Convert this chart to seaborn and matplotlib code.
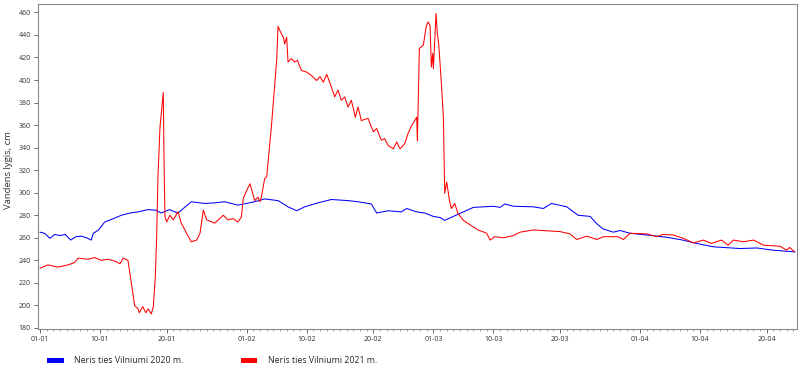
import matplotlib
matplotlib.use("Agg")
import matplotlib.pyplot as plt
import matplotlib.dates as mdates
from matplotlib.patches import Patch
import pandas as pd
import seaborn as sns

# days since 1 January, water level (cm)
blue_days = [0, 0.7, 1.5, 2.2, 3.0, 3.8, 4.6, 5.4, 6.2, 7.0,
             7.7, 8.0, 8.8, 9.7, 11.0, 12.2, 13.5, 14.7, 16.2, 17.4,
             18.2, 19.4, 20.7, 21.7, 22.7, 24.7, 26.2, 27.7, 29.7, 32.2,
             33.7, 35.7, 37.2, 38.5, 39.7, 41.7, 43.7, 46.2, 47.7, 49.7,
             50.5, 52.2, 54.2, 55.0, 56.5, 57.7, 59.0, 60.0, 60.7, 62.0,
             63.5, 65.0, 68.0, 69.0, 69.7, 71.0, 74.0, 75.5, 76.7, 79.0,
             80.7, 82.5, 83.5, 84.4, 86.0, 87.0, 88.5, 91.0, 94.0, 96.4,
             98.5, 101.0, 105.0, 107.5, 110.0, 113.2]
blue_vals = [265, 264, 259.5, 263, 262, 263, 258, 261, 261.5, 260,
             258, 264, 267, 274, 277, 280, 282, 283, 285, 284.5,
             282, 285, 282, 287, 292, 290.5, 291, 292, 289, 292,
             294.5, 293, 287.5, 284, 287.5, 291, 294, 293, 292, 290,
             282, 284, 283, 286, 283, 282, 279, 278, 275.5, 279,
             283, 287, 288, 287, 290, 288, 287.5, 286, 290.5, 287.5,
             280, 279, 272.5, 268, 265, 266.5, 264, 262.5, 260.5, 258,
             255, 252, 250.5, 251, 249, 247.5]

red_days = [0, 1.2, 2.7, 4.2, 5.2, 5.7, 7.2, 8.2, 9.2, 10.2,
            11.4, 12.0, 12.5, 13.2, 13.7, 14.2, 14.7, 14.9, 15.4, 15.9,
            16.2, 16.7, 17.0, 17.3, 17.5, 17.7, 18.0, 18.5, 18.6, 18.75,
            19.0, 19.5, 20.0, 20.7, 21.2, 22.0, 22.7, 23.5, 24.0, 24.5,
            25.0, 26.2, 27.5, 28.2, 29.0, 29.7, 30.2, 30.5, 31.0, 31.5,
            32.2, 32.7, 33.0, 33.2, 33.7, 34.0, 34.7, 35.5, 35.7, 36.2,
            36.5, 36.7, 37.0, 37.2, 37.7, 38.2, 38.6, 39.2, 40.0, 40.7,
            41.5, 42.0, 42.5, 43.0, 43.7, 44.2, 44.7, 45.2, 45.7, 46.2,
            46.7, 47.3, 47.7, 48.2, 49.2, 50.0, 50.5, 51.2, 51.7, 52.2,
            53.0, 53.5, 54.0, 54.7, 55.2, 55.6, 56.5, 56.6, 56.9, 57.5,
            57.9, 58.2, 58.5, 58.7, 58.9, 59.0, 59.4, 59.6, 59.8, 60.2,
            60.5, 60.7, 61.0, 61.4, 61.7, 62.2, 62.7, 63.5, 64.5, 65.7,
            67.0, 67.5, 68.2, 69.5, 71.0, 72.0, 74.0, 78.0, 79.5, 80.5,
            82.0, 83.5, 84.5, 86.7, 87.5, 88.5, 91.0, 92.5, 93.4, 95.0,
            96.5, 98.0, 99.5, 100.7, 102.2, 103.2, 104.0, 105.5, 107.0, 108.5,
            111.0, 112.0, 112.4, 113.2]
red_vals = [233, 236, 234, 236, 238, 242, 241, 242.5, 240, 241,
            239, 237, 242, 240, 220, 200, 197, 193.5, 199, 193.5,
            197, 192.5, 199, 225, 260, 314, 358, 389, 331, 279,
            274, 280, 276, 283, 273, 264, 256.5, 258, 264, 284.5,
            276, 273, 280, 276, 277, 274, 278.5, 295, 302, 308,
            293, 296, 292, 296, 312.5, 314, 358, 417.5, 447.5, 441,
            438, 432, 438, 416, 419, 416, 417.5, 408.5, 407, 404,
            399.5, 403, 398, 405, 394, 385, 391, 382, 385, 376,
            382, 367, 376, 364, 366, 354, 357, 346.5, 348, 342,
            339, 345, 339, 343.5, 352.5, 358, 367, 346, 428, 431,
            447, 451.5, 448.5, 411.5, 423.5, 410, 459, 441, 432, 397,
            367, 299.5, 309.5, 293.5, 286, 290.5, 281.5, 275.5, 271.5, 267,
            264, 258, 261, 260, 262, 265, 267, 265.5, 263.5, 258.5,
            261.5, 258.5, 261, 261, 258.5, 264, 263.5, 261, 263, 262.5,
            259.5, 255.5, 258, 255, 258, 253.5, 258, 256.5, 258, 253.5,
            252.5, 249, 251.5, 247.5]

labels = ["Neris ties Vilniumi 2020 m.", "Neris ties Vilniumi 2021 m."]
colors = ["#0000ff", "#ff0000"]

start = pd.Timestamp("2021-01-01")
blue = pd.DataFrame({"date": start + pd.to_timedelta(blue_days, unit="D"), "lygis": blue_vals})
red = pd.DataFrame({"date": start + pd.to_timedelta(red_days, unit="D"), "lygis": red_vals})

sns.set_style("white")
plt.rcParams["font.family"] = ["Open Sans", "DejaVu Sans"]

fig = plt.figure(figsize=(8, 3.74), dpi=100)
ax = fig.add_axes([0.0475, 0.12, 0.9485, 0.868])

sns.lineplot(data=blue, x="date", y="lygis", color=colors[0], lw=0.75, estimator=None, ax=ax)
sns.lineplot(data=red, x="date", y="lygis", color=colors[1], lw=0.75, estimator=None, ax=ax)

ax.set_xlim(start - pd.Timedelta(hours=7), start + pd.Timedelta(days=113.5))
ax.set_ylim(179, 467)
ax.set_yticks(range(180, 461, 20))

ax.xaxis.set_major_locator(mdates.DayLocator(bymonthday=[1, 10, 20]))
ax.xaxis.set_minor_locator(mdates.DayLocator())
ax.xaxis.set_major_formatter(mdates.DateFormatter("%d-%m"))

ax.tick_params(axis="both", which="major", direction="out", length=3, width=0.6,
               labelsize=5, labelcolor="#333333", color="#555555", pad=2,
               left=True, bottom=True)
ax.tick_params(axis="x", which="minor", direction="out", length=1.5, width=0.5,
               color="#777777", bottom=True)

for side, sp in ax.spines.items():
    sp.set_color("#888888")
    sp.set_linewidth(0.8)

ax.set_xlabel("")
ax.set_ylabel("Vandens lygis, cm", fontsize=6.8, color="#333333")
ax.yaxis.set_label_coords(-0.0335, 0.49)

handles = [Patch(facecolor=c, edgecolor="none") for c in colors]
fig.legend(handles, labels, loc="center left", bbox_to_anchor=(0.059, 0.035),
           ncol=2, frameon=False, fontsize=6.3, handlelength=1.9, handleheight=0.6,
           handletextpad=1.2, columnspacing=6.5, borderpad=0, borderaxespad=0)

fig.savefig("out.png", dpi=100)
